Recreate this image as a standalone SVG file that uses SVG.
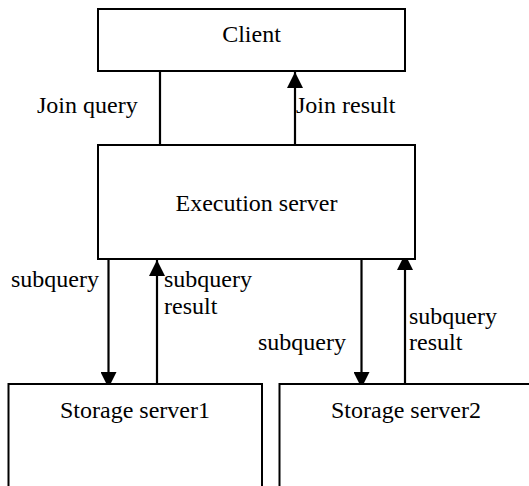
<svg xmlns="http://www.w3.org/2000/svg" width="529" height="486" viewBox="0 0 529 486">
  <style>
    .box { fill: #ffffff; stroke: #000000; stroke-width: 2; }
    .lbl { font-family: "Liberation Serif", "DejaVu Serif", serif; font-size: 24px; fill: #000000; }
    .mid { text-anchor: middle; }
    .wire { stroke: #000000; stroke-width: 2.2; fill: none; }
    .arrow { marker-end: url(#head); }
  </style>
  <defs>
    <marker id="head" markerUnits="userSpaceOnUse" markerWidth="16" markerHeight="16" refX="16" refY="8" orient="auto">
      <path d="M0,0 L16,8 L0,16 Z" fill="#000000"/>
    </marker>
  </defs>
  <rect width="529" height="486" fill="#ffffff"/>

  <!-- connectors -->
  <g id="connectors">
    <line class="wire" x1="160" y1="71" x2="160" y2="145"/>
    <line class="wire arrow" x1="295" y1="145" x2="295" y2="72"/>
    <line class="wire arrow" x1="108.5" y1="259" x2="108.5" y2="388"/>
    <line class="wire arrow" x1="157" y1="384" x2="157" y2="260"/>
    <line class="wire arrow" x1="361.5" y1="259" x2="361.5" y2="388"/>
    <line class="wire arrow" x1="405" y1="384" x2="405" y2="254"/>
  </g>

  <!-- connector labels -->
  <g id="labels">
    <text class="lbl" x="37" y="113">Join query</text>
    <text class="lbl" x="296" y="113">Join result</text>
    <text class="lbl" x="11" y="287">subquery</text>
    <text class="lbl" x="164" y="287">subquery</text>
    <text class="lbl" x="164" y="314">result</text>
    <text class="lbl" x="258" y="350">subquery</text>
    <text class="lbl" x="409" y="324">subquery</text>
    <text class="lbl" x="409" y="350">result</text>
  </g>

  <g id="client">
    <rect class="box" x="98" y="9" width="307" height="62"/>
    <text class="lbl mid" x="251.5" y="42">Client</text>
  </g>

  <g id="execution-server">
    <rect class="box" x="98" y="145" width="317" height="114"/>
    <text class="lbl mid" x="256.5" y="211">Execution server</text>
  </g>

  <g id="storage-server1">
    <rect class="box" x="8.5" y="384" width="253.5" height="130"/>
    <text class="lbl mid" x="135" y="418">Storage server1</text>
  </g>

  <g id="storage-server2">
    <rect class="box" x="279.5" y="384" width="260" height="130"/>
    <text class="lbl mid" x="406" y="418">Storage server2</text>
  </g>
</svg>
